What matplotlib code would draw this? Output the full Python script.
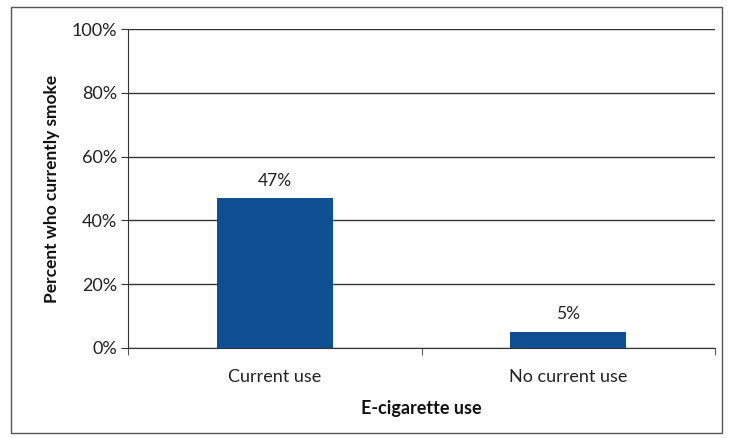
import matplotlib
matplotlib.use("Agg")
import matplotlib.pyplot as plt
from matplotlib.patches import Rectangle
from matplotlib.ticker import FixedLocator

categories = ["Current use", "No current use"]
values = [47, 5]
value_labels = ["47%", "5%"]
yticks = [0, 20, 40, 60, 80, 100]
ytick_labels = ["0%", "20%", "40%", "60%", "80%", "100%"]

plt.rcParams['font.family'] = ['Lato', 'DejaVu Sans']

fig = plt.figure(figsize=(7.30, 4.38), dpi=100)
fig.patch.set_facecolor('white')
ax = fig.add_axes([128/730, 1-348/438, (715-128)/730, (348-29)/438])

x = list(range(len(categories)))
ax.bar(x, values, width=0.395, color='#0E4F94', zorder=3)
for xi, v, lab in zip(x, values, value_labels):
    ax.text(xi, v + 3, lab, ha='center', va='bottom', fontsize=12.5, color='#222222')

ax.set_xlim(-0.5, len(categories) - 0.5)
ax.set_ylim(0, 100)
ax.set_yticks(yticks)
ax.set_yticklabels(ytick_labels, fontsize=13, color='#222222')
ax.yaxis.grid(True, color='#333333', linewidth=1.0, zorder=0)
ax.set_axisbelow(True)

ax.set_xticks(x)
ax.set_xticklabels(categories, fontsize=13, color='#222222')
ax.tick_params(axis='x', which='major', length=0, pad=15)
ax.xaxis.set_minor_locator(FixedLocator([-0.5, 0.5, 1.5]))
ax.tick_params(axis='x', which='minor', length=5, direction='out', color='#333333')
ax.tick_params(axis='y', length=5, direction='out', color='#333333', pad=3)

for s in ['top', 'right']:
    ax.spines[s].set_visible(False)
ax.spines['left'].set_color('#333333')
ax.spines['bottom'].set_color('#333333')

ax.set_ylabel("Percent who currently smoke", fontsize=12.5, fontweight='bold', labelpad=8, color='#111111')
ax.set_xlabel("E-cigarette use", fontsize=13, fontweight='bold', labelpad=11, color='#111111')

fig.patches.append(Rectangle((11/730, 1-433/438), (722-11)/730, (433-7)/438,
                             transform=fig.transFigure, fill=False,
                             edgecolor='#555555', linewidth=1.0))

fig.savefig("out.png", dpi=100, facecolor='white')
